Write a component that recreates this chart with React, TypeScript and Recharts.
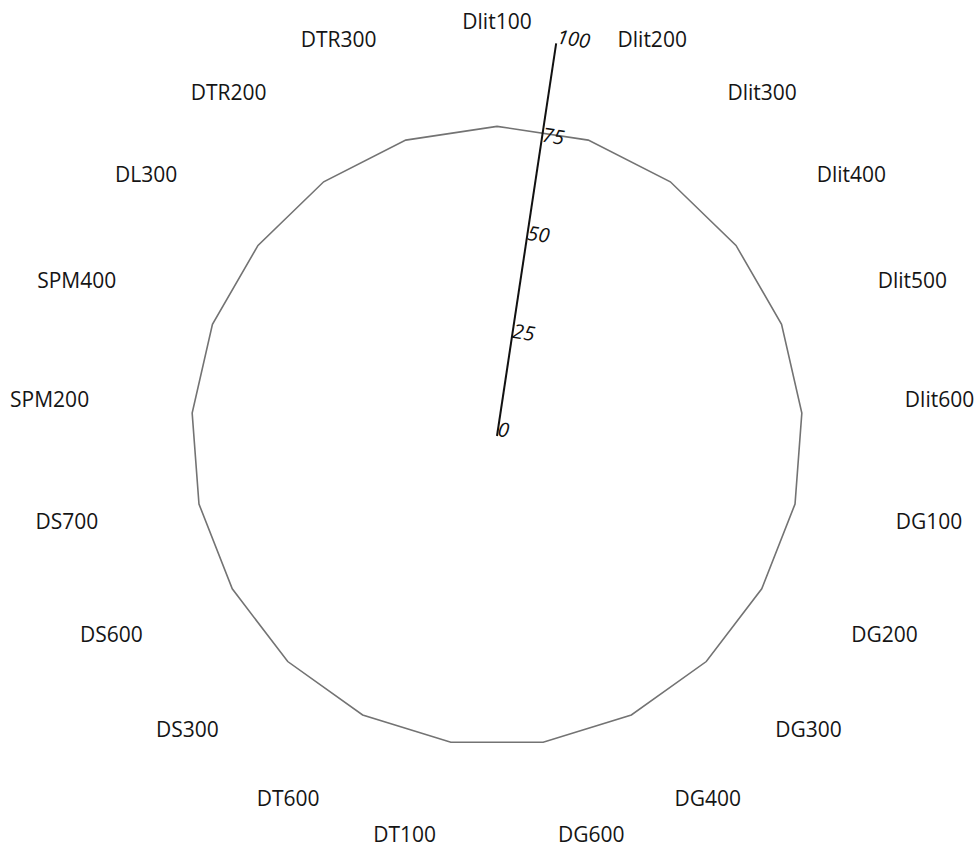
import { RadarChart, Radar, PolarAngleAxis, PolarRadiusAxis } from "recharts"

const categories = [
  "Dlit100", "Dlit200", "Dlit300", "Dlit400", "Dlit500", "Dlit600",
  "DG100", "DG200", "DG300", "DG400", "DG600",
  "DT100", "DT600", "DS300", "DS600", "DS700",
  "SPM200", "SPM400", "DL300", "DTR200", "DTR300",
]

const values = [78, 78, 77.5, 77, 77, 77, 77, 77, 77.5, 78, 78, 78, 78, 77.5, 77, 77, 77, 77, 77, 77.5, 78]

const radiusTicks = [0, 25, 50, 75, 100]

const data = categories.map((name, i) => ({ name, value: values[i] }))

// category label, centred a bit above the tick point
function AngleTick(props: any) {
  const { x, y, textAnchor, payload } = props
  return (
    <text x={x} y={y - 6.5} textAnchor={textAnchor} dominantBaseline="central"
      fill="#151515" fontSize={21} fontFamily="Open Sans">
      {payload.value}
    </text>
  )
}

export default function App() {
  return (
    <div style={{ position: "absolute", left: 0, top: 0, background: "#fff" }}>
      <RadarChart width={980} height={849} data={data} cx={497} cy={436} outerRadius={397}
        margin={{ top: 0, right: 0, bottom: 0, left: 0 }}>
        <PolarAngleAxis
          dataKey="name"
          axisLine={false}
          tickLine={false}
          tickSize={12}
          tick={<AngleTick />}
        />
        <PolarRadiusAxis
          angle={90 - 360 / 42}
          domain={[0, 100]}
          ticks={radiusTicks}
          axisLine={{ stroke: "#111", strokeWidth: 2 }}
          tick={{ fill: "#111", fontSize: 20, fontStyle: "italic", fontFamily: "Open Sans" }}
        />
        <Radar dataKey="value" stroke="#737373" strokeWidth={1.6} fill="none" fillOpacity={0} isAnimationActive={false} />
      </RadarChart>
    </div>
  )
}
